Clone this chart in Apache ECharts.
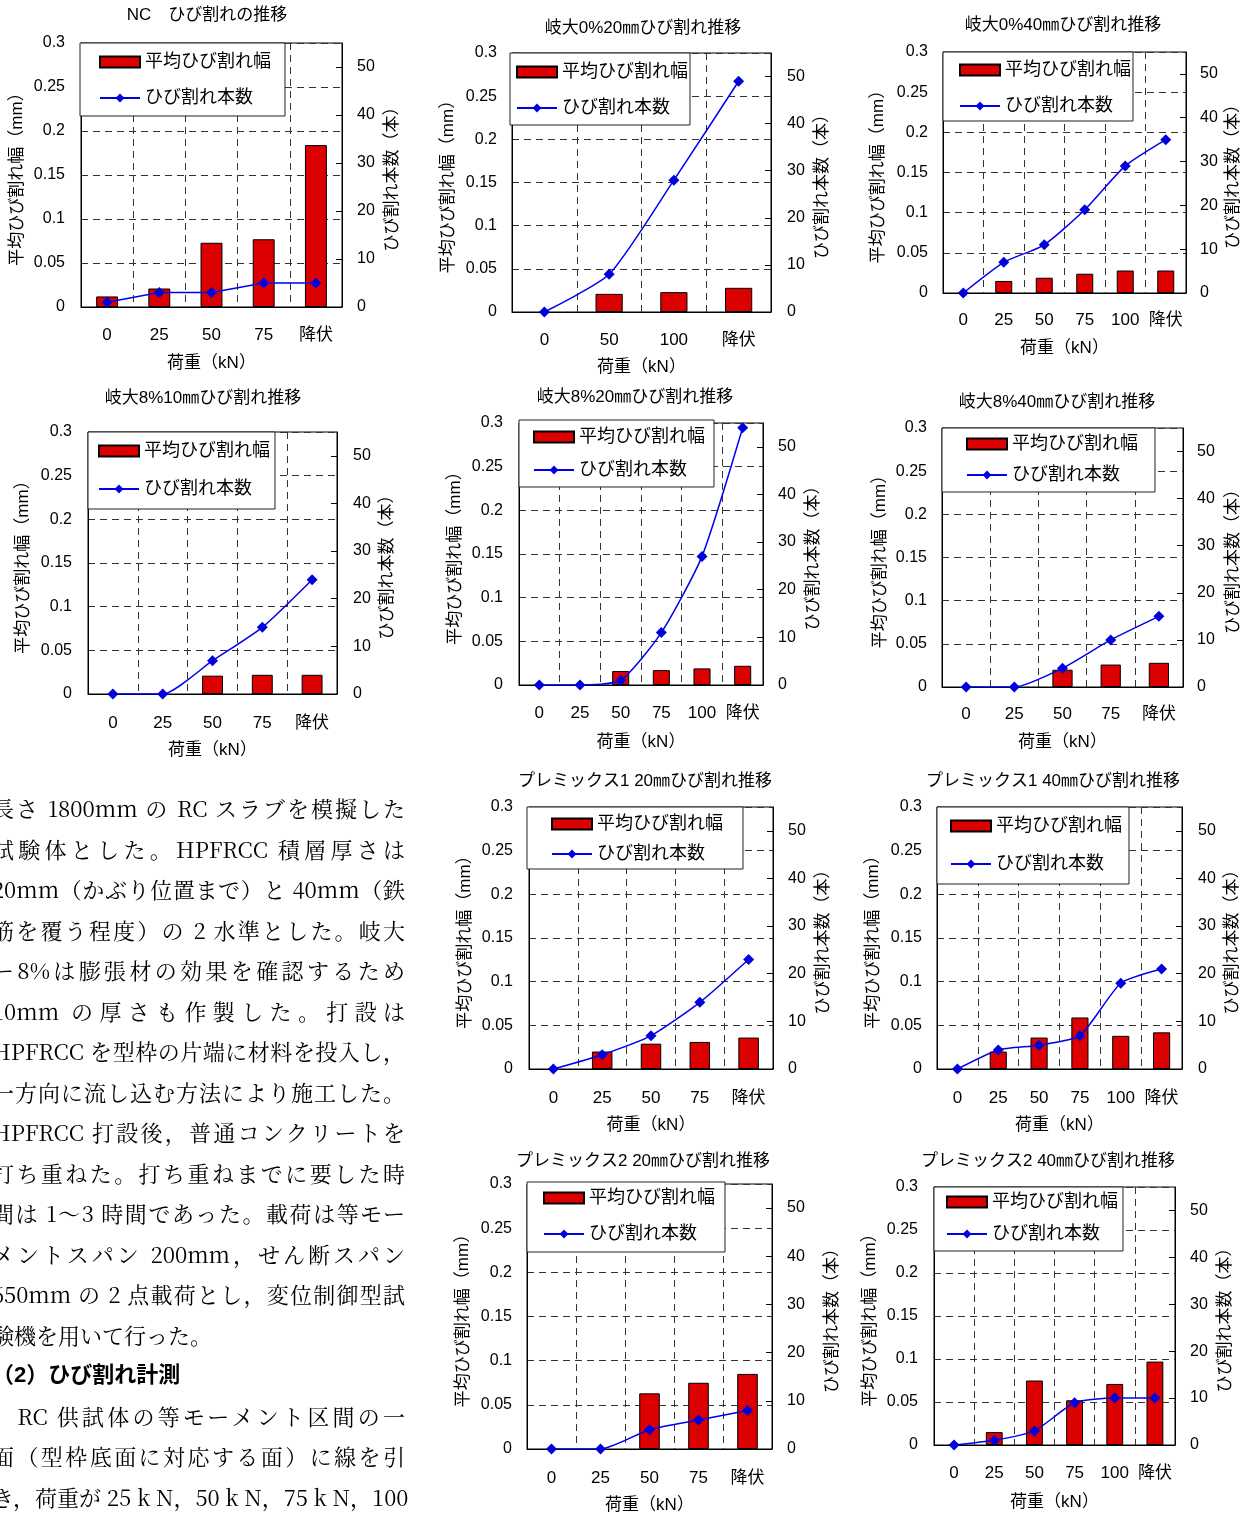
<!DOCTYPE html>
<html><head><meta charset="utf-8">
<script src="https://cdn.jsdelivr.net/npm/echarts@6/dist/echarts.min.js"></script>
<style>
html,body{margin:0;padding:0;background:#fff;}
#wrap{position:relative;width:1247px;height:1515px;overflow:hidden;}
#chart{position:absolute;left:0;top:0;width:1247px;height:1515px;}
#body{position:absolute;left:-8px;top:788px;width:413px;font-family:'Noto Serif CJK JP','Liberation Serif','Noto Sans CJK JP',serif;font-size:22px;color:#000;}
#body div{height:40.5px;line-height:40.5px;white-space:nowrap;}
#body .j{text-align:justify;text-align-last:justify;}
#body .h{font-family:'Liberation Sans','Noto Sans CJK JP',sans-serif;font-weight:bold;}
</style></head>
<body><div id="wrap"><div id="chart"></div>
<div id="body">
<div class="j">長さ 1800mm の RC スラブを模擬した</div>
<div class="j">試験体とした。HPFRCC 積層厚さは</div>
<div class="j">20mm（かぶり位置まで）と 40mm（鉄</div>
<div class="j">筋を覆う程度）の 2 水準とした。岐大</div>
<div class="j">ー8%は膨張材の効果を確認するため</div>
<div class="j">10mm の厚さも作製した。打設は</div>
<div class="j">HPFRCC を型枠の片端に材料を投入し，</div>
<div class="j">一方向に流し込む方法により施工した。</div>
<div class="j">HPFRCC 打設後，普通コンクリートを</div>
<div class="j">打ち重ねた。打ち重ねまでに要した時</div>
<div class="j">間は 1～3 時間であった。載荷は等モー</div>
<div class="j">メントスパン 200mm，せん断スパン</div>
<div class="j">650mm の 2 点載荷とし，変位制御型試</div>
<div>験機を用いて行った。</div>
<div class="h">（2）ひび割れ計測</div>
<div class="j">　RC 供試体の等モーメント区間の一</div>
<div class="j">面（型枠底面に対応する面）に線を引</div>
<div class="j">き，荷重が 25 k N，50 k N，75 k N，100</div>
</div>
</div>
<script>
// ---- data ----
const CATS5 = ['0', '25', '50', '75', '降伏'];
const CATS4 = ['0', '50', '100', '降伏'];
const CATS6 = ['0', '25', '50', '75', '100', '降伏'];
const LEFT_TICKS = [0, 0.05, 0.1, 0.15, 0.2, 0.25, 0.3];
const RIGHT_TICKS = [0, 10, 20, 30, 40, 50];
const NAME_W = '平均ひび割れ幅';
const NAME_N = 'ひび割れ本数';

const ncWidth = [0.012, 0.021, 0.073, 0.077, 0.184];
const ncCount = [1, 3, 3, 5, 5];
const g0_20Width = [null, 0.021, 0.023, 0.028];
const g0_20Count = [0, 8, 28, 49];
const g0_40Width = [null, 0.015, 0.019, 0.024, 0.028, 0.028];
const g0_40Count = [0, 7, 11, 19, 29, 35];
const g8_10Width = [null, null, 0.021, 0.022, 0.022];
const g8_10Count = [0, 0, 7, 14, 24];
const g8_20Width = [null, null, 0.016, 0.017, 0.019, 0.022];
const g8_20Count = [0, 0, 1, 11, 27, 54];
const g8_40Width = [null, null, 0.020, 0.026, 0.028];
const g8_40Count = [0, 0, 4, 10, 15];
const p1_20Width = [null, 0.020, 0.029, 0.031, 0.036];
const p1_20Count = [0, 3, 7, 14, 23];
const p1_40Width = [null, 0.020, 0.036, 0.059, 0.038, 0.042];
const p1_40Count = [0, 4, 5, 7, 18, 21];
const p2_20Width = [null, null, 0.063, 0.075, 0.085];
const p2_20Count = [0, 0, 4, 6, 8];
const p2_40Width = [null, 0.015, 0.075, 0.052, 0.071, 0.097];
const p2_40Count = [0, 1, 3, 9, 10, 10];

// ---- layout (pixel positions) ----
const charts = [
 {title:'NC　ひび割れの推移', tc:[207,15], cats:CATS5, w:ncWidth, n:ncCount, smooth:false, plot:[81,43,342,307], leg:[80,43,204,73,99,62,98], xl:335, xn:363, ll:65, rl:357, ln:17, rn:392},
 {title:'岐大0%20㎜ひび割れ推移', tc:[643,28], cats:CATS4, w:g0_20Width, n:g0_20Count, smooth:0.2, plot:[512,53,771,312], leg:[510,53,179,72,516,72,108], xl:340, xn:367, ll:497, rl:787, ln:448, rn:822},
 {title:'岐大0%40㎜ひび割れ推移', tc:[1063,25], cats:CATS6, w:g0_40Width, n:g0_40Count, smooth:0.2, plot:[943,52,1186,293], leg:[943,52,189,69,959,70,106], xl:320, xn:348, ll:928, rl:1200, ln:878, rn:1233},
 {title:'岐大8%10㎜ひび割れ推移', tc:[203,398], cats:CATS5, w:g8_10Width, n:g8_10Count, smooth:0.2, plot:[88,432,337,694], leg:[88,432,186,77,98,451,489], xl:723, xn:750, ll:72, rl:353, ln:23, rn:387},
 {title:'岐大8%20㎜ひび割れ推移', tc:[635,397], cats:CATS6, w:g8_20Width, n:g8_20Count, smooth:0.2, plot:[519,423,763,685], leg:[519,420,194,67,533,437,470], xl:713, xn:742, ll:503, rl:778, ln:455, rn:813},
 {title:'岐大8%40㎜ひび割れ推移', tc:[1057,402], cats:CATS5, w:g8_40Width, n:g8_40Count, smooth:0.2, plot:[942,428,1183,687], leg:[942,428,212,64,966,444,475], xl:714, xn:742, ll:927, rl:1197, ln:880, rn:1233},
 {title:'プレミックス1 20㎜ひび割れ推移', tc:[645,781], cats:CATS5, w:p1_20Width, n:p1_20Count, smooth:0.2, plot:[529,807,773,1069], leg:[527,807,215,62,551,824,854], xl:1098, xn:1125, ll:513, rl:788, ln:465, rn:823},
 {title:'プレミックス1 40㎜ひび割れ推移', tc:[1053,781], cats:CATS6, w:p1_40Width, n:p1_40Count, smooth:0.2, plot:[937,807,1182,1069], leg:[937,807,191,77,950,826,864], xl:1098, xn:1125, ll:922, rl:1198, ln:873, rn:1232},
 {title:'プレミックス2 20㎜ひび割れ推移', tc:[643,1161], cats:CATS5, w:p2_20Width, n:p2_20Count, smooth:0.2, plot:[527,1184,772,1449], leg:[527,1182,197,70,543,1198,1234], xl:1478, xn:1505, ll:512, rl:787, ln:463, rn:832},
 {title:'プレミックス2 40㎜ひび割れ推移', tc:[1048,1161], cats:CATS6, w:p2_40Width, n:p2_40Count, smooth:0.2, plot:[934,1187,1175,1445], leg:[934,1187,188,64,946,1202,1234], xl:1473, xn:1502, ll:918, rl:1190, ln:870, rn:1225}
];

const FONT = "'Liberation Sans','Noto Sans CJK JP',sans-serif";
const FS = 16;
const XFS = 17;
const NFS = 17;
const LEG_FS = 18;
const ICON_W = 40, ICON_H = 11;
const TEXT_W = 7 * LEG_FS;

const option = {
  animation: false,
  backgroundColor: 'transparent',
  grid: [], xAxis: [], yAxis: [], series: [], legend: [], graphic: []
};

charts.forEach((c, i) => {
  const [l, t, r, b] = c.plot;
  option.grid.push({left: l, top: t, width: r - l, height: b - t, show: true, borderColor: '#000', borderWidth: 1, backgroundColor: 'transparent'});
  const dash = {type: [7, 5], color: '#333', width: 1};
  option.xAxis.push({
    type: 'category', gridIndex: i, data: c.cats,
    axisLine: {lineStyle: {color: '#000', width: 1}},
    axisTick: {show: false},
    axisLabel: {margin: c.xl - b - XFS / 2, fontSize: XFS, color: '#000', fontFamily: FONT, interval: 0},
    splitLine: {show: true, interval: 0, lineStyle: dash},
    name: '荷重（kN）', nameLocation: 'middle', nameGap: c.xn - b - NFS / 2,
    nameTextStyle: {fontSize: NFS, color: '#000', fontFamily: FONT}
  });
  option.yAxis.push({
    type: 'value', gridIndex: i, position: 'left', min: LEFT_TICKS[0], max: LEFT_TICKS[LEFT_TICKS.length - 1], interval: 0.05,
    axisLine: {show: true, lineStyle: {color: '#000', width: 1}},
    axisTick: {show: false},
    axisLabel: {margin: l - c.ll, fontSize: FS, color: '#000', fontFamily: FONT, formatter: v => String(+v.toFixed(2))},
    splitLine: {show: true, lineStyle: dash},
    name: '平均ひび割れ幅（mm）', nameLocation: 'middle', nameGap: l - c.ln - NFS / 2,
    nameTextStyle: {fontSize: NFS, color: '#000', fontFamily: FONT}
  });
  option.yAxis.push({
    type: 'value', gridIndex: i, position: 'right', min: 0, max: 55, interval: 10,
    axisLine: {show: true, lineStyle: {color: '#000', width: 1}},
    axisTick: {show: true, inside: true, length: 6, lineStyle: {color: '#000'}, customValues: RIGHT_TICKS},
    axisLabel: {margin: c.rl - r, fontSize: FS, color: '#000', fontFamily: FONT, customValues: RIGHT_TICKS, formatter: v => (RIGHT_TICKS.indexOf(v) >= 0 ? String(v) : '')},
    splitLine: {show: false},
    name: 'ひび割れ本数（本）', nameLocation: 'middle', nameGap: c.rn - r - NFS / 2,
    nameTextStyle: {fontSize: NFS, color: '#000', fontFamily: FONT}
  });
  option.series.push({
    type: 'bar', name: NAME_W, xAxisIndex: i, yAxisIndex: 2 * i, data: c.w, barWidth: '42%',
    itemStyle: {color: '#dc0000', borderColor: '#000', borderWidth: 1}, z: 2
  });
  option.series.push({
    type: 'line', name: NAME_N, xAxisIndex: i, yAxisIndex: 2 * i + 1, data: c.n, smooth: c.smooth,
    symbol: 'diamond', symbolSize: 11,
    lineStyle: {color: '#0000ee', width: 1.5}, itemStyle: {color: '#0000dd'}, z: 3
  });
  const [bx, by, bw, bh, ix, r1, r2] = c.leg;
  const itemH = LEG_FS;
  const padL = ix - bx;
  const padT = Math.max(0, r1 - by - itemH / 2);
  const gap = Math.max(0, r2 - r1 - itemH);
  const padB = Math.max(0, by + bh - r2 - itemH / 2);
  const padR = Math.max(0, bw - padL - ICON_W - 5 - TEXT_W);
  option.legend.push({
    left: bx, top: by, orient: 'vertical', itemGap: gap, itemWidth: ICON_W, itemHeight: ICON_H,
    padding: [padT, padR, padB, padL], backgroundColor: '#fff', borderColor: '#222', borderWidth: 1, borderRadius: 0,
    textStyle: {fontSize: LEG_FS, color: '#000', fontFamily: FONT},
    data: [{name: NAME_W, icon: 'rect'}, {name: NAME_N}],
    selectedMode: false
  });
  option.graphic.push({
    type: 'text', x: c.tc[0], y: c.tc[1],
    style: {text: c.title, textAlign: 'center', textVerticalAlign: 'middle', fontSize: 17, fontFamily: FONT, fill: '#000'}
  });
});

const chart = echarts.init(document.getElementById('chart'), null, {renderer: 'canvas', width: 1247, height: 1515});
chart.setOption(option);
</script>
</body></html>
